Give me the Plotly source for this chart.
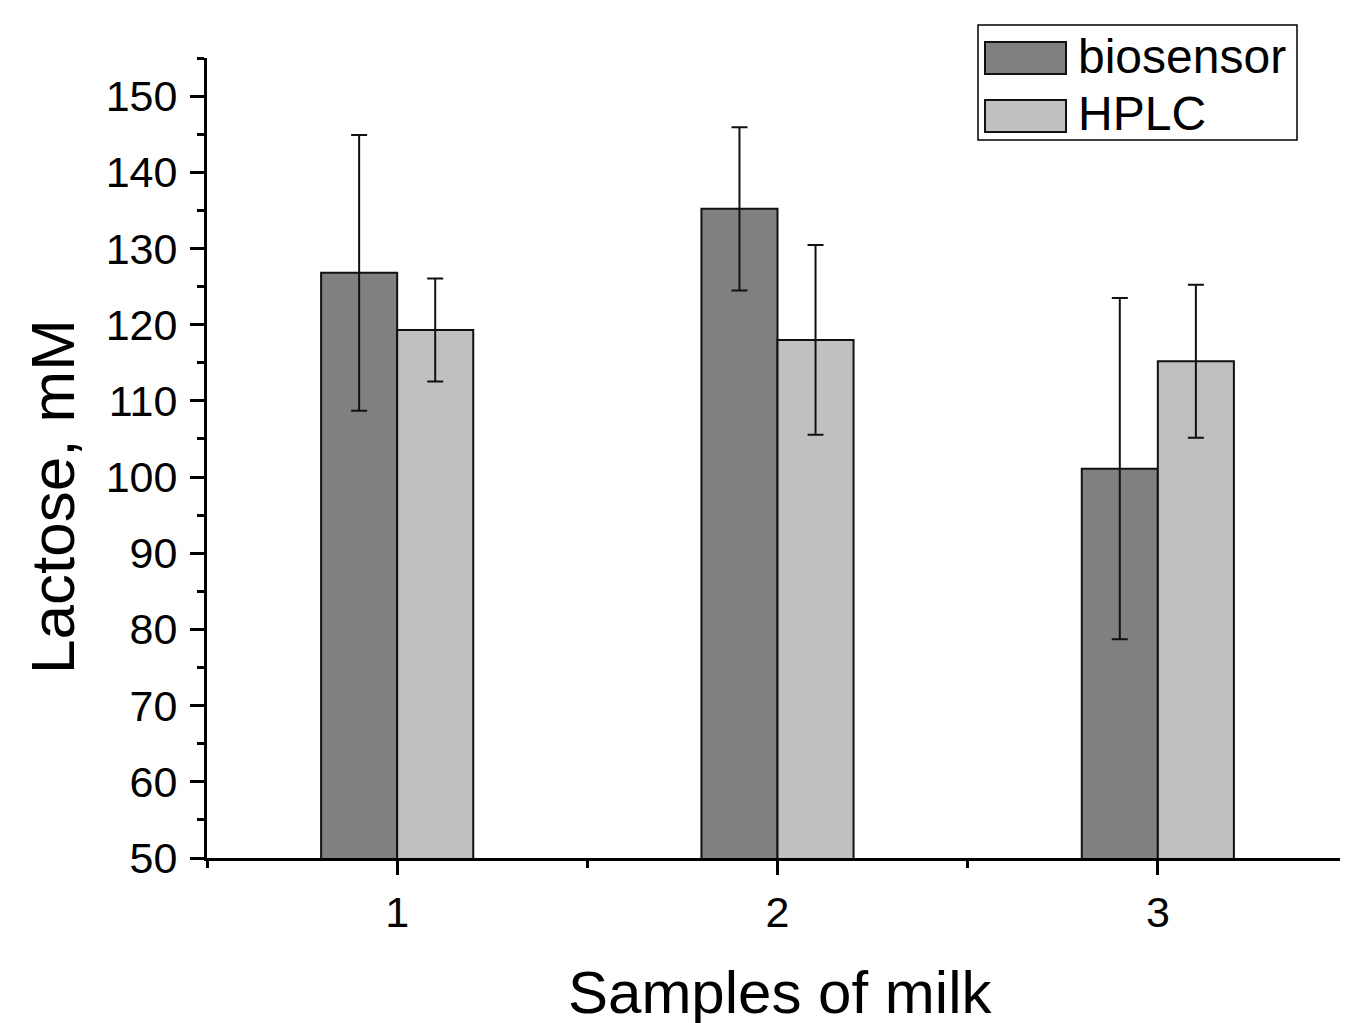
import plotly.graph_objects as go

samples = [1, 2, 3]
tick_labels = ["1", "2", "3"]
biosensor = [126.8, 135.2, 101.1]
biosensor_err = [18.1, 10.7, 22.4]
hplc = [119.3, 118.0, 115.2]
hplc_err = [6.75, 12.45, 10.05]

FONT = "Liberation Sans, Arial, sans-serif"
OFF = 8  # default page body margin
W, H = 1348 - OFF, 1023 - OFF
# plot area in window pixels: x 207..1348, y 58..858
ML, MR, MT, MB = 207 - OFF, 0, 58 - OFF, 1023 - 858
PW, PH = W - ML - MR, H - MT - MB
X0, Y1 = 207, 858  # window px of plot left / bottom


def px(x):
    return (x - X0) / PW


def py(y):
    return (Y1 - y) / PH


fig = go.Figure()
fig.add_trace(go.Bar(
    x=samples, y=biosensor, name="biosensor",
    marker=dict(color="#808080", line=dict(color="#111111", width=2)),
    error_y=dict(type="data", array=biosensor_err, color="#111111", thickness=2, width=8),
    showlegend=False,
))
fig.add_trace(go.Bar(
    x=samples, y=hplc, name="HPLC",
    marker=dict(color="#c0c0c0", line=dict(color="#111111", width=2)),
    error_y=dict(type="data", array=hplc_err, color="#111111", thickness=2, width=8),
    showlegend=False,
))

shapes = [
    dict(type="rect", xref="paper", yref="paper", x0=px(978), x1=px(1297), y0=py(140), y1=py(25),
         line=dict(color="black", width=1.5), fillcolor="white", layer="above"),
    dict(type="rect", xref="paper", yref="paper", x0=px(985), x1=px(1066), y0=py(74), y1=py(42),
         line=dict(color="#111111", width=2), fillcolor="#808080", layer="above"),
    dict(type="rect", xref="paper", yref="paper", x0=px(985), x1=px(1066), y0=py(132), y1=py(100),
         line=dict(color="#111111", width=2), fillcolor="#c0c0c0", layer="above"),
]

annotations = [
    dict(text="biosensor", xref="paper", yref="paper", x=px(1076), y=py(56), xanchor="left",
         yanchor="middle", showarrow=False, font=dict(family=FONT, size=48, color="black")),
    dict(text="HPLC", xref="paper", yref="paper", x=px(1076), y=py(114), xanchor="left",
         yanchor="middle", showarrow=False, font=dict(family=FONT, size=48, color="black")),
    dict(text="Lactose, mM", xref="paper", yref="paper", x=px(52), y=py(496), xanchor="center",
         yanchor="middle", textangle=-90, showarrow=False,
         font=dict(family=FONT, size=62, color="black")),
    dict(text="Samples of milk", xref="paper", yref="paper", x=px(780), y=py(992), xanchor="center",
         yanchor="middle", showarrow=False, font=dict(family=FONT, size=60, color="black")),
]

fig.update_layout(
    width=W, height=H,
    margin=dict(l=ML, r=MR, t=MT, b=MB, pad=0),
    paper_bgcolor="white", plot_bgcolor="white",
    barmode="group", bargap=0.6, bargroupgap=0,
    font=dict(family=FONT, size=43, color="black"),
    shapes=shapes, annotations=annotations,
    xaxis=dict(
        range=[0.5, 3.5], tickmode="array", tickvals=samples, ticktext=tick_labels,
        showgrid=False, zeroline=False, showline=True, linecolor="black", linewidth=3,
        ticks="outside", ticklen=14, tickwidth=3, tickcolor="black",
        tickfont=dict(family=FONT, size=43, color="black"),
        minor=dict(tickmode="array", tickvals=[0.5, 1.5, 2.5], ticks="outside", ticklen=7,
                   tickwidth=3, tickcolor="black", showgrid=False),
    ),
    yaxis=dict(
        range=[50, 155], tickmode="linear", tick0=50, dtick=10,
        showgrid=False, zeroline=False, showline=True, linecolor="black", linewidth=3,
        ticks="outside", ticklen=14, tickwidth=3, tickcolor="black", ticklabelstandoff=4,
        tickfont=dict(family=FONT, size=43, color="black"),
        minor=dict(tickmode="linear", tick0=50, dtick=5, ticks="outside", ticklen=7,
                   tickwidth=3, tickcolor="black", showgrid=False),
    ),
)

fig.write_html("out.html")
